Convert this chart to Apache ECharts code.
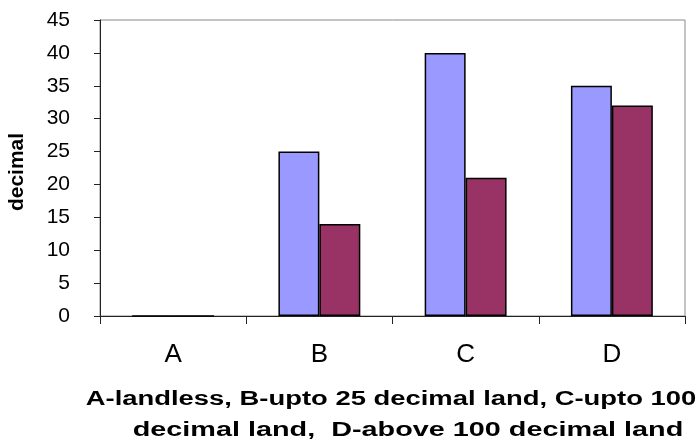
<!DOCTYPE html>
<html>
<head>
<meta charset="utf-8">
<script src="https://cdn.jsdelivr.net/npm/echarts@6/dist/echarts.min.js"></script>
<style>
  html, body { margin: 0; padding: 0; background: #fff; }
  #chart { width: 697px; height: 445px; }
</style>
</head>
<body>
<div id="chart"></div>
<script>
// chart data
const categories = ["A", "B", "C", "D"];
const series1 = [0, 25, 40, 35];
const series2 = [0, 14, 21, 32];
const yTicks = [0, 5, 10, 15, 20, 25, 30, 35, 40, 45];
const captionLines = [
  "A-landless, B-upto 25 decimal land, C-upto 100",
  "decimal land,  D-above 100 decimal land",
];

const chartDom = document.getElementById("chart");
const myChart = echarts.init(chartDom);

// caption under the x axis, stretched like the original picture
const captionStyle = {
  fontFamily: "Liberation Sans",
  fontSize: 20,
  fontWeight: "bold",
  fill: "#000",
  textAlign: "center",
  textVerticalAlign: "middle",
};

const option = {
  backgroundColor: "#ffffff",
  animation: false,
  graphic: [
    {
      type: "text",
      x: 391,
      y: 399,
      scaleX: 1.37,
      style: Object.assign({ text: captionLines[0] }, captionStyle),
    },
    {
      type: "text",
      x: 408,
      y: 430,
      scaleX: 1.44,
      style: Object.assign({ text: captionLines[1] }, captionStyle),
    },
  ],
  grid: {
    left: 100,
    right: 12,
    top: 20,
    bottom: 129,
    outerBoundsMode: "none",
    show: true,
    borderColor: "#888",
    borderWidth: 1,
  },
  xAxis: {
    type: "category",
    data: categories,
    axisLine: { lineStyle: { color: "#222", width: 1 } },
    axisTick: { show: true, length: 8, lineStyle: { color: "#222" } },
    axisLabel: {
      fontFamily: "Liberation Sans",
      fontSize: 26,
      color: "#000",
      margin: 26,
    },
  },
  yAxis: {
    type: "value",
    min: yTicks[0],
    max: yTicks[yTicks.length - 1],
    interval: 5,
    name: "decimal",
    nameLocation: "middle",
    nameGap: 72,
    nameTextStyle: {
      fontFamily: "Liberation Sans",
      fontSize: 21,
      fontWeight: "bold",
      color: "#000",
      padding: [0, 8, 0, 0],
    },
    axisLine: { show: true, lineStyle: { color: "#222", width: 1 } },
    axisTick: { show: true, length: 6, lineStyle: { color: "#222" } },
    splitLine: { show: false },
    axisLabel: {
      fontFamily: "Liberation Sans",
      fontSize: 21,
      color: "#000",
      margin: 30,
    },
  },
  series: [
    {
      name: "s1",
      type: "bar",
      data: series1,
      barGap: "0%",
      barCategoryGap: "44%",
      itemStyle: { color: "#9999FF", borderColor: "#000", borderWidth: 1.5 },
    },
    {
      name: "s2",
      type: "bar",
      data: series2,
      itemStyle: { color: "#993366", borderColor: "#000", borderWidth: 1.5 },
    },
  ],
};

option && myChart.setOption(option);
</script>
</body>
</html>
